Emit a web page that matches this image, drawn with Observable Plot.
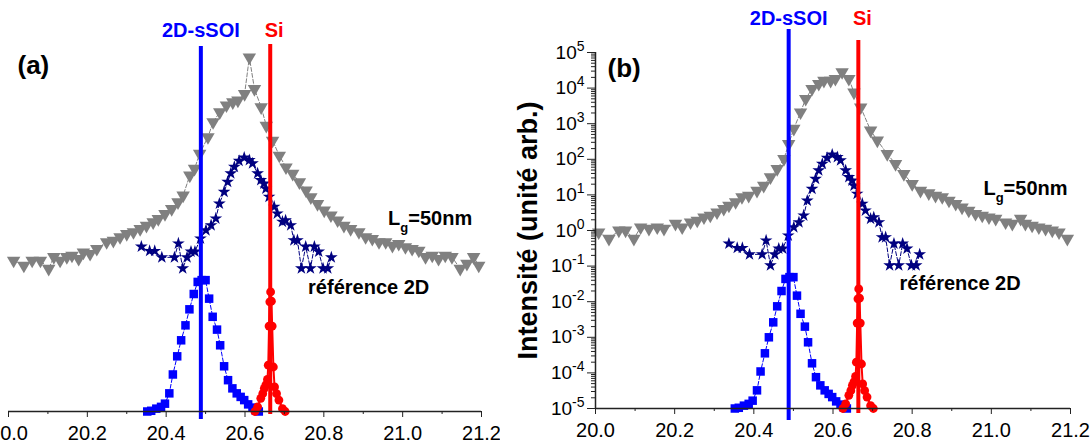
<!DOCTYPE html>
<html><head><meta charset="utf-8">
<script src="https://cdn.jsdelivr.net/npm/d3@7"></script>
<script src="https://cdn.jsdelivr.net/npm/@observablehq/plot@0.6"></script>
<style>
html,body{margin:0;padding:0;background:#fff;}
#wrap{display:flex;width:1091px;height:443px;overflow:hidden;}
</style>
</head><body><div id="wrap"></div>
<script>
// ---- data (x = angle, log10 of intensity) ----
const grayA_x = [20.013,20.039,20.060,20.081,20.102,20.115,20.131,20.148,20.161,20.178,20.190,20.207,20.224,20.249,20.266,20.283,20.300,20.317,20.334,20.350,20.367,20.380,20.397,20.414,20.430,20.443,20.460,20.472,20.485,20.506,20.519,20.536,20.553,20.569,20.582,20.599,20.611,20.624,20.641,20.654,20.670,20.687,20.704,20.721,20.738,20.755,20.767,20.784,20.801,20.818,20.835,20.851,20.868,20.889,20.906,20.923,20.940,20.957,20.974,20.990,21.007,21.024,21.041,21.058,21.075,21.091,21.108,21.125,21.146,21.163,21.180,21.193];
const grayA_log = [-0.76,-0.90,-0.76,-0.76,-0.99,-0.66,-0.76,-0.66,-0.62,-0.71,-0.53,-0.57,-0.43,-0.24,-0.20,-0.10,-0.01,0.04,0.13,0.22,0.32,0.41,0.55,0.69,0.88,1.07,1.63,1.82,2.24,2.71,3.13,3.41,3.60,3.69,3.74,3.92,4.95,4.06,3.55,3.03,2.61,2.19,1.86,1.68,1.44,1.21,1.02,0.83,0.65,0.51,0.37,0.22,0.13,0.04,-0.10,-0.15,-0.24,-0.24,-0.34,-0.29,-0.38,-0.43,-0.48,-0.66,-0.62,-0.71,-0.62,-0.66,-0.99,-0.85,-0.66,-0.90];

const grayB_x = [20.008,20.034,20.059,20.076,20.097,20.114,20.135,20.156,20.173,20.202,20.219,20.240,20.257,20.274,20.290,20.307,20.324,20.337,20.354,20.370,20.387,20.408,20.425,20.442,20.459,20.476,20.488,20.501,20.518,20.531,20.547,20.564,20.577,20.594,20.606,20.623,20.640,20.653,20.670,20.695,20.712,20.737,20.758,20.779,20.800,20.821,20.842,20.859,20.876,20.893,20.910,20.926,20.943,20.960,20.977,20.994,21.011,21.036,21.053,21.074,21.086,21.103,21.120,21.137,21.154,21.171,21.192];
const grayB_log = [-0.05,-0.23,0.0,0.0,-0.23,0.09,0.05,0.09,0.05,0.19,0.09,0.23,0.28,0.37,0.42,0.51,0.61,0.70,0.80,0.94,0.98,1.12,1.26,1.50,1.73,2.01,2.43,2.86,3.32,3.70,3.98,4.12,4.21,4.21,4.26,4.45,4.26,3.88,3.46,2.81,2.53,2.15,1.87,1.59,1.31,1.12,1.05,0.98,0.94,0.84,0.75,0.65,0.56,0.47,0.42,0.37,0.33,0.23,0.19,0.33,0.19,0.14,0.09,0.05,0.0,-0.05,-0.23];

const star_x = [20.337,20.358,20.371,20.389,20.421,20.431,20.442,20.453,20.463,20.473,20.487,20.501,20.514,20.526,20.535,20.547,20.556,20.564,20.573,20.585,20.598,20.611,20.619,20.632,20.640,20.648,20.653,20.661,20.674,20.682,20.695,20.703,20.716,20.724,20.733,20.743,20.754,20.766,20.776,20.787,20.798,20.810,20.819];
const star_log = [-0.37,-0.49,-0.49,-0.67,-0.67,-0.28,-0.98,-0.67,-0.51,-0.51,-0.14,0.09,0.23,0.42,0.84,1.17,1.45,1.69,1.87,2.04,2.13,2.06,1.97,1.69,1.50,1.40,1.26,1.03,0.75,0.56,0.33,0.37,0.23,-0.19,-0.19,-0.98,-0.37,-0.98,-0.37,-0.51,-0.98,-0.98,-0.67];

const square_x = [20.352,20.362,20.375,20.387,20.397,20.408,20.417,20.428,20.438,20.449,20.459,20.470,20.480,20.490,20.500,20.509,20.518,20.529,20.537,20.547,20.557,20.568,20.579,20.589,20.598,20.608,20.619,20.627,20.635];
const square_log = [-5.0,-4.98,-4.92,-4.87,-4.78,-4.49,-3.96,-3.45,-3.00,-2.58,-2.13,-1.70,-1.36,-1.31,-1.31,-1.83,-2.34,-2.70,-3.14,-3.73,-4.12,-4.35,-4.49,-4.59,-4.68,-4.80,-4.89,-4.97,-5.0];

const red_x = [20.625,20.632,20.640,20.645,20.649,20.653,20.657,20.659,20.661,20.663,20.665,20.667,20.669,20.672,20.675,20.680,20.686,20.695,20.702];
const red_log = [-5.0,-4.87,-4.63,-4.50,-4.35,-4.25,-4.10,-3.70,-2.60,-1.92,-1.64,-1.90,-2.60,-3.75,-4.31,-4.50,-4.68,-4.92,-5.0];

const refLines = [{name: "2D-sSOI", x: 20.488, color: "#0000ff"}, {name: "Si", x: 20.664, color: "#ff0000"}];
const xTicks = [20.0, 20.2, 20.4, 20.6, 20.8, 21.0, 21.2];
const xMinor = [20.1, 20.3, 20.5, 20.7, 20.9, 21.1];
const yTicks = [1e-5,1e-4,1e-3,1e-2,1e-1,1e0,1e1,1e2,1e3,1e4,1e5];
const yMinor = yTicks.slice(0, -1).flatMap(p => [2,3,4,5,6,7,8,9].map(m => m * p));
const yLabel = "Intensité (unité arb.)";
const annA = [{t: "Lg=50nm", x: 20.963, y: 0.42}, {t: "référence 2D", x: 20.760, y: -1.52}];
const annB = [{t: "Lg=50nm", x: 20.980, y: 1.18}, {t: "référence 2D", x: 20.768, y: -1.49}];

const toRows = (xs, ls) => xs.map((x, i) => ({x, y: Math.pow(10, ls[i])}));

const sqrt3 = Math.sqrt(3);
const triangleDown = {draw(ctx, size) {
  const y = -Math.sqrt(size / (sqrt3 * 3));
  ctx.moveTo(0, -y * 2); ctx.lineTo(-sqrt3 * y, y); ctx.lineTo(sqrt3 * y, y); ctx.closePath();
}};

const FONT = "Liberation Sans, Arial, Helvetica, sans-serif";

function panel(o) {
  const gray = toRows(o.grayX, o.grayLog);
  const stars = toRows(star_x, star_log);
  const squares = toRows(square_x, square_log);
  const reds = toRows(red_x, red_log);
  const marks = [
    Plot.line(gray, {x: "x", y: "y", stroke: "#808080", strokeWidth: 1, strokeDasharray: "4,2"}),
    Plot.dot(gray, {x: "x", y: "y", symbol: triangleDown, r: 5, fill: "#808080", stroke: "none"}),
    Plot.line(stars, {x: "x", y: "y", stroke: "#000080", strokeWidth: 1, strokeDasharray: "4,2"}),
    Plot.dot(stars, {x: "x", y: "y", symbol: d3.symbolStar, r: 4, fill: "#000080", stroke: "none"}),
    Plot.line(squares, {x: "x", y: "y", stroke: "#0000ff", strokeWidth: 1, strokeDasharray: "4,2"}),
    Plot.dot(squares, {x: "x", y: "y", symbol: "square", r: 4.8, fill: "#0000ff", stroke: "none"}),
    Plot.line(reds, {x: "x", y: "y", stroke: "#ff0000", strokeWidth: 2}),
    Plot.dot(reds, {x: "x", y: "y", r: 4.4, fill: "#ff0000", stroke: "none"}),
    Plot.ruleX([refLines[0]], {x: "x", stroke: "color", strokeWidth: 4, insetTop: o.blueTop, insetBottom: o.blueBot}),
    Plot.ruleX([refLines[1]], {x: "x", stroke: "color", strokeWidth: 4, insetTop: o.redTop, insetBottom: o.redBot}),
    Plot.text([refLines[0]], {x: "x", text: "name", fill: "color", frameAnchor: "top", lineAnchor: "middle", dy: o.labDy, fontSize: 20, fontWeight: "bold"}),
    Plot.text([refLines[1]], {x: "x", text: "name", fill: "color", frameAnchor: "top", lineAnchor: "middle", dy: o.labDy, dx: 4, fontSize: 20, fontWeight: "bold"}),
    Plot.text(o.ann, {x: "x", y: d => Math.pow(10, d.y), text: "t", textAnchor: "start", lineAnchor: "middle", fontSize: 20, fontWeight: "bold", fill: "#000"}),
    Plot.text([o.tag], {frameAnchor: "top-left", textAnchor: "start", lineAnchor: "middle", dx: o.tagDx, dy: o.tagDy, fontSize: 26, fontWeight: "bold", fill: "#000"}),
    Plot.ruleY([1e-5], {stroke: "#222", strokeWidth: 1.5}),
    Plot.axisX({ticks: xTicks, tickSize: 6, tickPadding: 8, tickFormat: d3.format(".1f"), fontSize: 20, label: null, stroke: "#222", fill: "#000"}),
    Plot.axisX({ticks: xMinor, tickSize: 3, tickFormat: () => "", label: null, stroke: "#222"})
  ];
  if (o.showY) {
    marks.push(
      Plot.ruleX([20], {stroke: "#222", strokeWidth: 1.5}),
      Plot.axisY({ticks: yTicks, tickSize: 8, tickPadding: 3, tickFormat: d => "10^" + Math.round(Math.log10(d)), fontSize: 19, label: null, stroke: "#222", fill: "#000"}),
      Plot.axisY({ticks: yMinor, tickSize: 4, tickFormat: () => "", label: null, stroke: "#222"}),
      Plot.text([yLabel], {frameAnchor: "left", textAnchor: "middle", rotate: -90, lineAnchor: "middle", dx: -67, fontSize: 27, fontWeight: "bold", fill: "#000"})
    );
  }
  const svg = Plot.plot({
    width: o.width, height: 443,
    marginLeft: o.ml, marginRight: o.mr, marginTop: o.mt, marginBottom: o.mb,
    x: {domain: [20.0, 21.2]},
    y: {type: "log", domain: [1e-5, 1e5], axis: o.showY ? undefined : null},
    style: {fontFamily: FONT, background: "white", overflow: "visible"},
    marks
  });
  // superscripts / subscripts as real text
  d3.select(svg).selectAll("text").each(function() {
    const t = this.textContent;
    const sel = d3.select(this);
    if (/^10\^-?\d+$/.test(t)) {
      const e = t.split("^")[1];
      sel.text("");
      sel.append("tspan").text("10");
      sel.append("tspan").attr("dy", "-8").attr("font-size", "14px").text(e);
    } else if (t === "Lg=50nm") {
      sel.text("");
      sel.append("tspan").text("L");
      sel.append("tspan").attr("dy", "7").attr("font-size", "13px").text("g");
      sel.append("tspan").attr("dy", "-7").text("=50nm");
    }
  });
  return svg;
}

const wrap = document.getElementById("wrap");
wrap.appendChild(panel({grayX: grayA_x, grayLog: grayA_log, width: 500, ml: 8, mr: 19, mt: 55, mb: 32,
  showY: false, ann: annA, tag: "(a)", tagDx: 9, tagDy: 10, labDy: -25,
  blueTop: -9, blueBot: -8, redTop: -11, redBot: -3}));
wrap.appendChild(panel({grayX: grayB_x, grayLog: grayB_log, width: 591, ml: 95, mr: 21, mt: 52, mb: 35,
  showY: true, ann: annB, tag: "(b)", tagDx: 12, tagDy: 16, labDy: -34,
  blueTop: -23, blueBot: -12, redTop: -12, redBot: -5}));
</script>
</body></html>
